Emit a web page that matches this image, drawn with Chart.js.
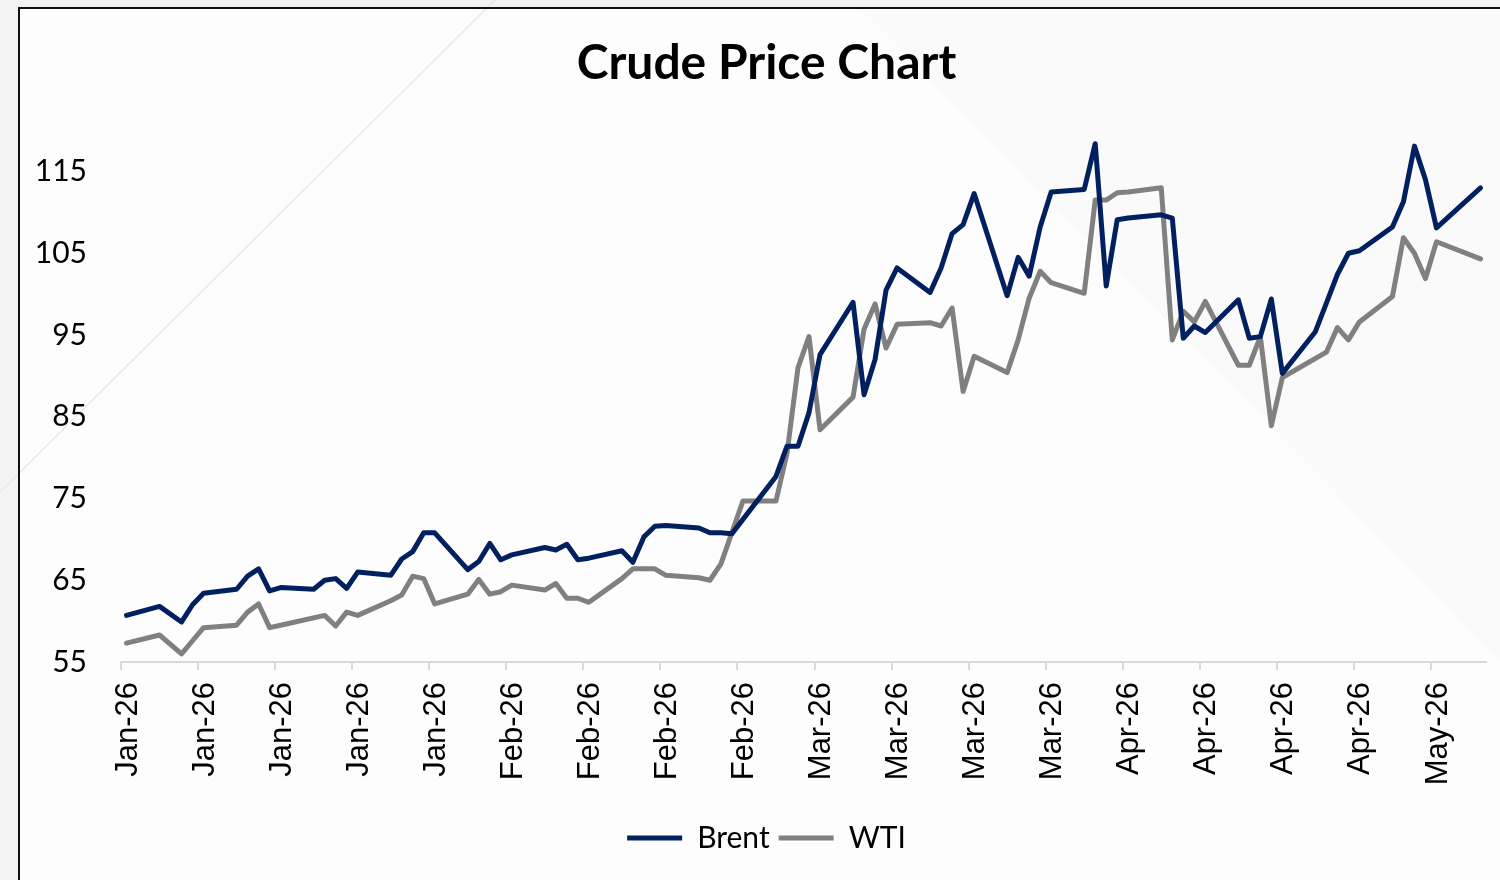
<!DOCTYPE html>
<html>
<head>
<meta charset="utf-8">
<title>Crude Price Chart</title>
<script src="https://cdn.jsdelivr.net/npm/chart.js@4.4.1/dist/chart.umd.min.js"></script>
<style>
  html, body { margin: 0; padding: 0; background: #f3f3f3; }
  #wrap { width: 1500px; height: 880px; }
</style>
</head>
<body>
<div id="wrap"><canvas id="crudeChart" width="1500" height="880"></canvas></div>
<script>
// trading days (days that sit on a straight segment are left out)
const dates = [
  '2026-01-02','2026-01-05','2026-01-07','2026-01-08','2026-01-09','2026-01-12','2026-01-13','2026-01-14','2026-01-15','2026-01-16',
  '2026-01-19','2026-01-20','2026-01-21','2026-01-22','2026-01-23','2026-01-26','2026-01-27','2026-01-28','2026-01-29','2026-01-30',
  '2026-02-02','2026-02-03','2026-02-04','2026-02-05','2026-02-06','2026-02-09','2026-02-10','2026-02-11','2026-02-12','2026-02-13',
  '2026-02-16','2026-02-17','2026-02-18','2026-02-19','2026-02-20','2026-02-23','2026-02-24','2026-02-25','2026-02-26','2026-02-27',
  '2026-03-02','2026-03-03','2026-03-04','2026-03-05','2026-03-06','2026-03-09','2026-03-10','2026-03-11','2026-03-12','2026-03-13',
  '2026-03-16','2026-03-17','2026-03-18','2026-03-19','2026-03-20','2026-03-23','2026-03-24','2026-03-25','2026-03-26','2026-03-27',
  '2026-03-30','2026-03-31','2026-04-01','2026-04-02','2026-04-03','2026-04-06','2026-04-07','2026-04-08','2026-04-09','2026-04-10',
  '2026-04-13','2026-04-14','2026-04-15','2026-04-16','2026-04-17','2026-04-20','2026-04-21','2026-04-22','2026-04-23','2026-04-24',
  '2026-04-27','2026-04-28','2026-04-29','2026-04-30','2026-05-01','2026-05-05'
];

const brent = [
  60.7, 61.8, 59.9, 62.0, 63.4, 63.9, 65.5, 66.4, 63.7, 64.1,
  63.9, 65.0, 65.2, 64.0, 66.0, 65.6, 67.6, 68.5, 70.8, 70.8,
  66.3, 67.3, 69.5, 67.5, 68.1, 69.0, 68.7, 69.4, 67.5, 67.7,
  68.6, 67.2, 70.3, 71.6, 71.7, 71.4, 70.8, 70.8, 70.7, null,
  77.7, 81.4, 81.4, 85.5, 92.6, 99.0, 87.7, 92.0, 100.5, 103.2,
  100.2, 103.2, 107.4, 108.5, 112.3, 99.8, 104.5, 102.2, 108.2, 112.5,
  112.8, 118.4, 101.0, 109.1, 109.3, 109.7, 109.3, 94.6, 96.1, 95.3,
  99.3, 94.6, 94.8, 99.4, 90.3, 95.4, 98.9, 102.4, 105.0, 105.3,
  108.2, 111.3, 118.1, 114.0, 108.1, 113.0
];

const wti = [
  57.3, 58.3, 56.0, 57.6, 59.2, 59.5, 61.1, 62.1, 59.2, 59.5,
  null, 60.7, 59.4, 61.1, 60.7, 62.5, 63.2, 65.5, 65.2, 62.1,
  63.3, 65.1, 63.3, 63.6, 64.4, 63.8, 64.6, 62.8, 62.8, 62.3,
  65.2, 66.4, null, 66.4, 65.6, 65.3, 65.0, 67.0, null, 74.7,
  74.7, 80.5, 91.0, 94.8, 83.4, 87.4, 95.7, 98.8, 93.4, 96.3,
  96.5, 96.1, 98.3, 88.1, 92.4, 90.4, 94.4, 99.5, 102.8, 101.4,
  100.1, 111.5, 111.5, 112.4, 112.5, 113.0, 94.4, 97.9, 96.6, 99.1,
  91.3, 91.3, 94.8, 83.9, 89.8, null, 92.9, 95.9, 94.4, 96.6,
  99.7, 106.9, 105.0, 101.9, 106.4, 104.3
];

// one label per week, starting on 2 Jan
const xTickLabels = [
  'Jan-26','Jan-26','Jan-26','Jan-26','Jan-26',
  'Feb-26','Feb-26','Feb-26','Feb-26',
  'Mar-26','Mar-26','Mar-26','Mar-26',
  'Apr-26','Apr-26','Apr-26','Apr-26',
  'May-26'
];
const yTicks = [55, 65, 75, 85, 95, 105, 115];

const startDay = Date.parse('2026-01-02');
const dayOf = (s) => (Date.parse(s) - startDay) / 864e5;
// points sit in the middle of their day, like an Excel date axis
const toPoints = (vals) => dates.map((d, i) => ({ x: dayOf(d) + 0.5, y: vals[i] }));

const backdrop = {
  id: 'backdrop',
  afterLayout(chart) {
    // title and legend are centred a little right of the canvas middle
    chart.titleBlock.left = 47;
    chart.legend.left = 47;
  },
  beforeDraw(chart) {
    const ctx = chart.ctx;
    ctx.save();
    ctx.fillStyle = '#f3f3f3';
    ctx.fillRect(0, 0, 1500, 880);
    ctx.fillStyle = '#fdfdfd';
    ctx.fillRect(19, 8, 1481, 872);
    // very faint shading in the upper right
    ctx.fillStyle = 'rgba(0,0,0,0.012)';
    ctx.beginPath();
    ctx.moveTo(860, 8);
    ctx.lineTo(1500, 8);
    ctx.lineTo(1500, 660);
    ctx.closePath();
    ctx.fill();
    // thin diagonal in the upper left
    ctx.strokeStyle = '#e6e6e6';
    ctx.lineWidth = 1.2;
    ctx.beginPath();
    ctx.moveTo(0, 492);
    ctx.lineTo(495, 0);
    ctx.stroke();
    ctx.strokeStyle = '#111';
    ctx.lineWidth = 2;
    ctx.strokeRect(19, 8, 1500, 900);
    ctx.restore();
  }
};

new Chart(document.getElementById('crudeChart'), {
  type: 'line',
  data: {
    datasets: [
      {
        label: 'Brent',
        data: toPoints(brent),
        borderColor: '#002060',
        backgroundColor: '#002060',
        borderWidth: 5,
        pointRadius: 0,
        borderCapStyle: 'round',
        borderJoinStyle: 'round',
        spanGaps: true,
        fill: false
      },
      {
        label: 'WTI',
        data: toPoints(wti),
        borderColor: '#808080',
        backgroundColor: '#808080',
        borderWidth: 5,
        pointRadius: 0,
        borderCapStyle: 'round',
        borderJoinStyle: 'round',
        spanGaps: true,
        fill: false
      }
    ]
  },
  options: {
    responsive: false,
    animation: false,
    devicePixelRatio: 1,
    layout: { padding: { left: 20, right: 14, top: 10, bottom: 17 } },
    plugins: {
      title: {
        display: true,
        text: 'Crude Price Chart',
        color: '#000',
        font: { family: 'Lato', size: 48, weight: 'bold' },
        padding: { top: 25, bottom: 38 }
      },
      legend: {
        position: 'bottom',
        labels: {
          usePointStyle: true,
          pointStyle: 'line',
          pointStyleWidth: 55,
          color: '#000',
          font: { family: 'Lato', size: 30 },
          padding: 9
        }
      },
      tooltip: { enabled: false }
    },
    scales: {
      x: {
        type: 'linear',
        min: 0,
        max: 124,
        afterBuildTicks: (scale) => { scale.ticks = xTickLabels.map((_, i) => ({ value: i * 7 })); },
        afterFit: (scale) => { scale.height = 152; },
        ticks: {
          autoSkip: false,
          minRotation: 90,
          maxRotation: 90,
          padding: 12,
          labelOffset: 7,
          color: '#000',
          font: { family: 'Liberation Sans', size: 31 },
          callback: (value, index) => xTickLabels[index]
        },
        grid: { drawOnChartArea: false, color: '#d9d9d9', lineWidth: 2, tickLength: 8 },
        border: { color: '#d9d9d9', width: 2 }
      },
      y: {
        min: 55,
        max: 120,
        afterBuildTicks: (scale) => { scale.ticks = yTicks.map(v => ({ value: v })); },
        afterFit: (scale) => { scale.width = 101; },
        ticks: {
          padding: 26,
          color: '#000',
          font: { family: 'Lato', size: 30 }
        },
        grid: { display: false },
        border: { display: false }
      }
    }
  },
  plugins: [backdrop]
});
</script>
</body>
</html>
